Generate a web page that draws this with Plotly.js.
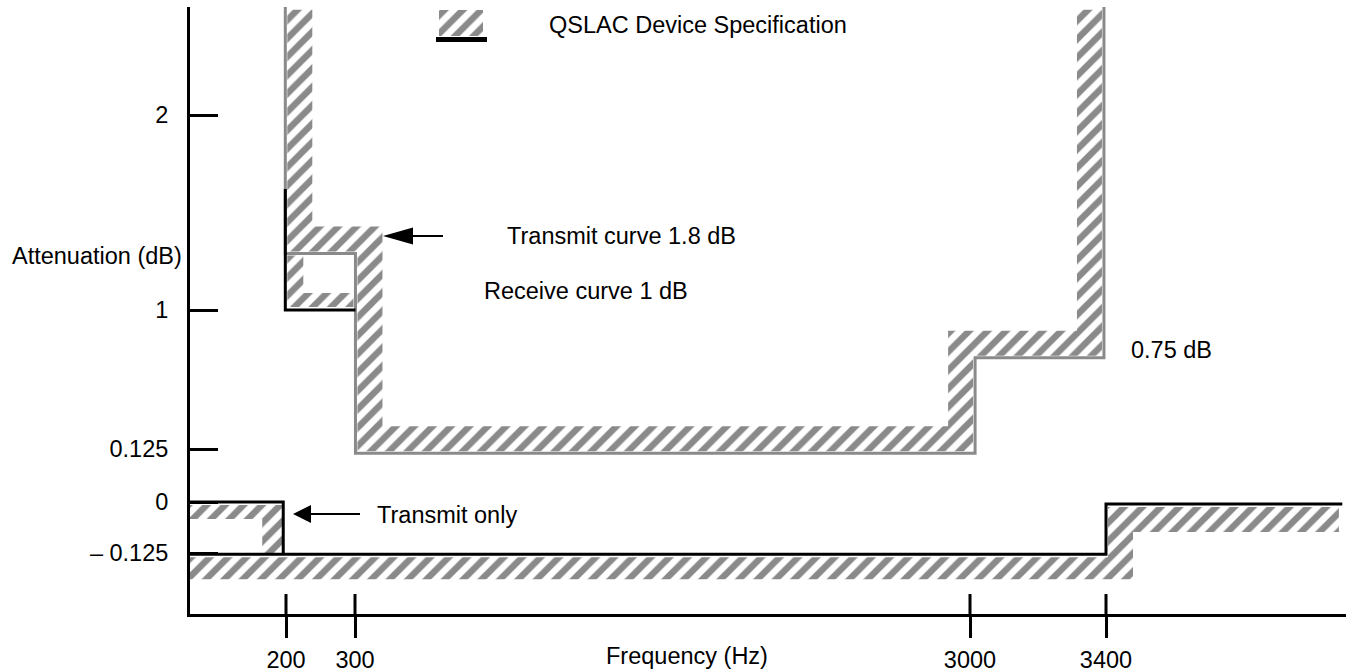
<!DOCTYPE html>
<html><head><meta charset="utf-8">
<script src="https://cdn.plot.ly/plotly-3.0.1.min.js"></script>
<style>html,body{margin:0;padding:0;background:#fff}#chart{width:1350px;height:672px}</style>
</head><body><div id="chart"></div>
<script>
// ---------------- data ----------------
const freqTicks = [200, 300, 3000, 3400];
const freqTickLabels = ['200', '300', '3000', '3400'];
const dbTicks = [2, 1, 0.125, 0, -0.125];
const dbTickLabels = ['2', '1', '0.125', '0', '\u2013 0.125'];

// Receive curve outline (grey), Hz / dB
const rxHz = [199, 199, 302, 302, 3015, 3015, 3394, 3394];
const rxDb = [2.6, 1.29, 1.29, 0.115, 0.115, 0.70, 0.70, 2.6];
// Upper-left template edge (black)
const txHz = [199, 199, 302];
const txDb = [1.62, 1.0, 1.0];
// Lower template edges (black)
const loHzA = [40, 196, 196];
const loDbA = [0, 0, -0.128];
const loHzB = [40, 3400, 3400, 4095];
const loDbB = [-0.128, -0.128, -0.005, -0.005];

// ---------------- schematic (non-uniform) scale of the drawing ----------------
const SCALE = {
  xHz: [200, 300, 3000, 3400], xPos: [286, 355, 970, 1106],
  yDb: [-0.125, 0, 0.125, 1, 2], yPos: [553, 502, 449, 310, 115]
};
function interp(v, a, b) {
  let i;
  if (v <= a[0]) i = 0;
  else if (v >= a[a.length - 1]) i = a.length - 2;
  else { i = 0; while (v > a[i + 1]) i++; }
  return b[i] + (v - a[i]) * (b[i + 1] - b[i]) / (a[i + 1] - a[i]);
}
const X = f => interp(f, SCALE.xHz, SCALE.xPos);
const Y = d => interp(d, SCALE.yDb, SCALE.yPos);

// ---------------- styles ----------------
const FONT = 'Liberation Sans, Arial, Helvetica, sans-serif';
const FS = 23.5;
const GREY = '#8a8a8a';
const PAT = {shape: '/', fgcolor: GREY, bgcolor: 'rgba(0,0,0,0)', size: 13, solidity: 0.5};
const G = 2, T = 25;          // gap and thickness of the main hatched band
const BAND_TOP = 2.54;

// main hatched band following the receive outline
function mainBand() {
  const top = Y(BAND_TOP);
  const xl = X(rxHz[0]) + G, ys = Y(rxDb[1]) - G, x3 = X(rxHz[2]) + G, yb = Y(rxDb[3]) - G;
  const x30 = X(rxHz[4]) - G, y75 = Y(rxDb[5]) - G, x34 = X(rxHz[6]) - G;
  return {
    x: [xl, xl, x3, x3, x30, x30, x34, x34, x34 - T, x34 - T, x30 - T, x30 - T, x3 + T, x3 + T, xl + T, xl + T],
    y: [top, ys, ys, yb, yb, y75, y75, top, top, y75 - T, y75 - T, yb - T, yb - T, ys - T, ys - T, top]
  };
}
// small L band inside the receive step
function smallBand() {
  const x0 = X(txHz[0]) + 2, y0 = Y(rxDb[1]) + 2, y1 = Y(txDb[1]) - 3, x1 = X(txHz[2]) - 2;
  return {x: [x0, x0, x1, x1, x0 + 16, x0 + 16], y: [y0, y1, y1, y1 - 14, y1 - 14, y0]};
}
// band under the 0 dB edge (transmit only)
function txOnlyBand() {
  const xl = X(loHzA[0]), yt = Y(loDbA[0]) + 3, xr = X(loHzA[1]) - 1, yb = Y(loDbA[2]) - 1;
  return {x: [xl, xr, xr, xr - 20, xr - 20, xl], y: [yt, yt, yb, yb, yt + 14, yt + 14]};
}
// band under the -0.125 dB edge
function lowBand() {
  const xl = X(loHzB[0]), yt = Y(loDbB[0]) + 3, xs = X(loHzB[1]) + 2, yu = Y(0) + 5, xr = X(4085);
  return {x: [xl, xs, xs, xr, xr, xs + 25, xs + 25, xl], y: [yt, yt, yu, yu, yu + 25, yu + 25, yt + 22, yt + 22]};
}

const hatch = (p) => ({type: 'scatter', mode: 'none', x: p.x, y: p.y, fill: 'toself', fillpattern: PAT,
  fillcolor: 'rgba(0,0,0,0)', hoverinfo: 'skip', showlegend: false});
const line = (xs, ys, color) => ({type: 'scatter', mode: 'lines', x: xs.map(X), y: ys.map(Y),
  line: {color: color, width: 3}, hoverinfo: 'skip', showlegend: false});

const legendGlyph = {x: [439, 483, 483, 439], y: [10, 10, 36, 36]};

const traces = [
  hatch(mainBand()), hatch(smallBand()), hatch(txOnlyBand()), hatch(lowBand()), hatch(legendGlyph),
  line(rxHz, rxDb, GREY),
  line(txHz, txDb, '#000'),
  line(loHzA, loDbA, '#000'),
  line(loHzB, loDbB, '#000')
];

// plot area in page pixels
const L = 190, R = 1346, TOP = 7, BOT = 614;
const px = v => (v - L) / (R - L);
const py = v => (BOT - v) / (BOT - TOP);

const shapes = [];
freqTicks.forEach(f => shapes.push({type: 'line', xref: 'x', yref: 'y', x0: X(f), x1: X(f), y0: 594, y1: BOT,
  line: {color: '#000', width: 3}}));
// legend bar
shapes.push({type: 'rect', xref: 'x', yref: 'y', x0: 436, x1: 487, y0: 37, y1: 42, fillcolor: '#000', line: {width: 0}});
// arrows
shapes.push({type: 'line', xref: 'x', yref: 'y', x0: 412, x1: 443, y0: 236, y1: 236, line: {color: '#000', width: 2}});
shapes.push({type: 'path', xref: 'x', yref: 'y', path: 'M383,236 L413,227.5 L413,244.5 Z', fillcolor: '#000', line: {width: 0}});
shapes.push({type: 'line', xref: 'x', yref: 'y', x0: 310, x1: 360, y0: 514, y1: 514, line: {color: '#000', width: 2}});
shapes.push({type: 'path', xref: 'x', yref: 'y', path: 'M293,514 L311,505 L311,523 Z', fillcolor: '#000', line: {width: 0}});

const txt = (s, x, y, xa) => ({text: s, xref: 'paper', yref: 'paper', x: px(x), y: py(y), xanchor: xa || 'left',
  yanchor: 'middle', showarrow: false, font: {family: FONT, size: FS, color: '#000'}});

const annotations = [
  txt('QSLAC Device Specification', 547, 25),
  txt('Transmit curve 1.8 dB', 505, 236),
  txt('Receive curve 1 dB', 482, 291),
  txt('0.75 dB', 1129, 350),
  txt('Transmit only', 375, 515),
  txt('Attenuation (dB)', 10, 256),
  txt('Frequency (Hz)', 687, 656, 'center')
];

const layout = {
  width: 1350, height: 672,
  margin: {l: L, r: 1350 - R, t: TOP, b: 672 - BOT, pad: 0},
  paper_bgcolor: '#fff', plot_bgcolor: '#fff',
  font: {family: FONT, size: FS, color: '#000'},
  showlegend: false,
  xaxis: {range: [L, R], showgrid: false, zeroline: false, showline: true, linecolor: '#000', linewidth: 3,
    tickmode: 'array', tickvals: freqTicks.map(X), ticktext: freqTickLabels, ticks: 'outside', ticklen: 21,
    tickwidth: 3, tickcolor: '#000', ticklabelstandoff: 2, tickfont: {family: FONT, size: FS, color: '#000'}},
  yaxis: {range: [BOT, TOP], showgrid: false, zeroline: false, showline: true, linecolor: '#000', linewidth: 3,
    tickmode: 'array', tickvals: dbTicks.map(Y), ticktext: dbTickLabels, ticks: 'inside', ticklen: 28,
    tickwidth: 3, tickcolor: '#000', ticklabelstandoff: 14, tickfont: {family: FONT, size: FS, color: '#000'}},
  shapes: shapes,
  annotations: annotations
};

Plotly.newPlot('chart', traces, layout, {displayModeBar: false, staticPlot: true});
</script>
</body></html>
